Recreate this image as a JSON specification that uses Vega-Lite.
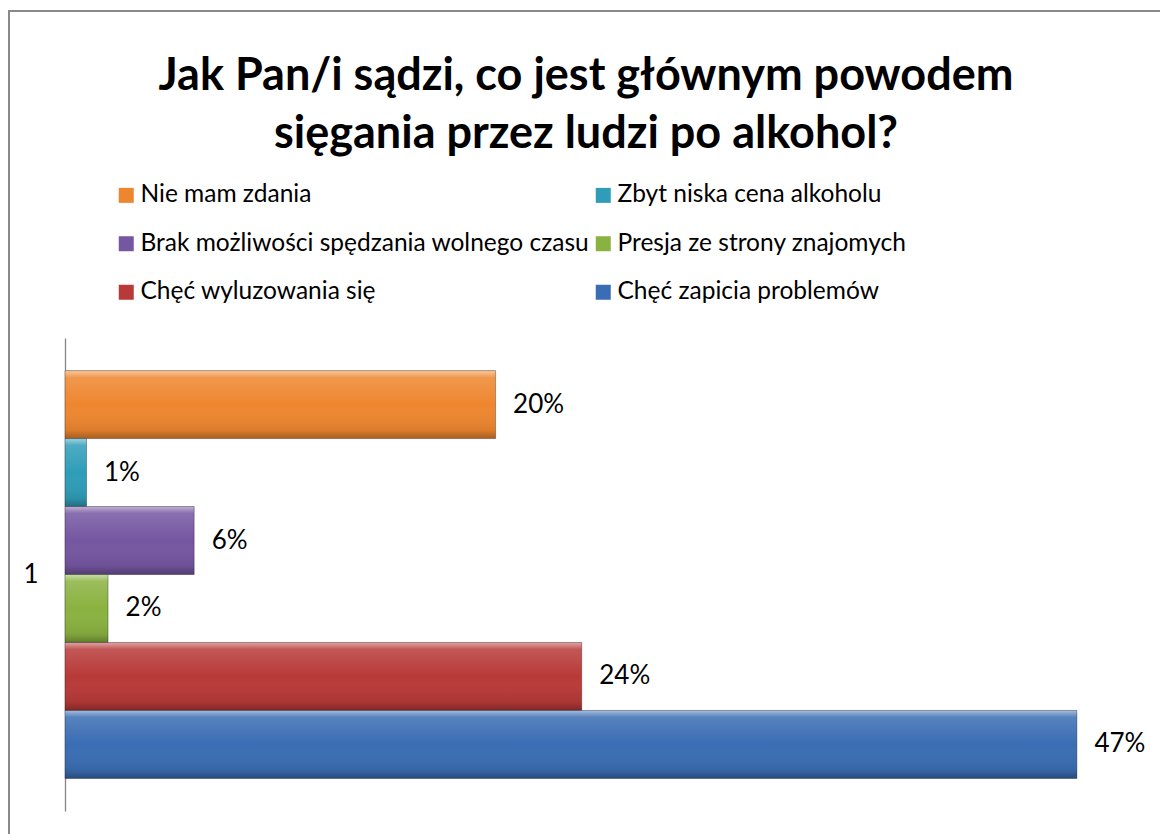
{
  "$schema": "https://vega.github.io/schema/vega-lite/v6.json",
  "width": 1165,
  "height": 830,
  "autosize": {"type": "none"},
  "padding": {"left": 9, "top": 11, "right": -14, "bottom": -7},
  "background": "white",
  "title": {
    "text": ["Jak Pan/i sądzi, co jest głównym powodem", "sięgania przez ludzi po alkohol?"],
    "font": "Lato",
    "fontSize": 45,
    "fontWeight": "bold",
    "color": "black",
    "anchor": "middle",
    "frame": "group",
    "orient": "top",
    "offset": -146,
    "lineHeight": 58,
    "dx": -5.5
  },
  "data": {
    "values": [
      {"cat": "1", "item": "Nie mam zdania", "value": 0.2},
      {"cat": "1", "item": "Zbyt niska cena alkoholu", "value": 0.01},
      {"cat": "1", "item": "Brak możliwości spędzania wolnego czasu", "value": 0.06},
      {"cat": "1", "item": "Presja ze strony znajomych", "value": 0.02},
      {"cat": "1", "item": "Chęć wyluzowania się", "value": 0.24},
      {"cat": "1", "item": "Chęć zapicia problemów", "value": 0.47}
    ]
  },
  "encoding": {
    "y": {
      "field": "cat",
      "type": "nominal",
      "scale": {"range": [327, 800], "paddingOuter": 0.08, "paddingInner": 0},
      "axis": {
        "title": null,
        "orient": "left",
        "offset": -56,
        "ticks": false,
        "tickSize": 0,
        "labelPadding": 27,
        "labelFont": "Lato",
        "labelFontSize": 26,
        "labelColor": "black",
        "domainColor": "#868686",
        "domainWidth": 1.3,
        "grid": false
      }
    },
    "yOffset": {
      "field": "item",
      "type": "nominal",
      "sort": ["Nie mam zdania", "Zbyt niska cena alkoholu", "Brak możliwości spędzania wolnego czasu", "Presja ze strony znajomych", "Chęć wyluzowania się", "Chęć zapicia problemów"],
      "scale": {"paddingInner": 0, "paddingOuter": 0}
    },
    "x": {
      "field": "value",
      "type": "quantitative",
      "scale": {"domain": [0, 0.5], "range": [56, 1132.5], "nice": false, "zero": true},
      "axis": null
    }
  },
  "layer": [
    {
      "mark": {"type": "bar"},
      "encoding": {
        "color": {
          "field": "item",
          "type": "nominal",
          "sort": ["Nie mam zdania", "Zbyt niska cena alkoholu", "Brak możliwości spędzania wolnego czasu", "Presja ze strony znajomych", "Chęć wyluzowania się", "Chęć zapicia problemów"],
          "scale": {
            "domain": ["Nie mam zdania", "Zbyt niska cena alkoholu", "Brak możliwości spędzania wolnego czasu", "Presja ze strony znajomych", "Chęć wyluzowania się", "Chęć zapicia problemów"],
            "range": ["#EE862F", "#2F9DB8", "#7556A1", "#8AB240", "#B83A38", "#3A6DB3"]
          },
          "legend": {
            "orient": "none",
            "legendX": 105,
            "legendY": 172,
            "direction": "horizontal",
            "columns": 2,
            "title": null,
            "labelFont": "Lato",
            "labelFontSize": 24.5,
            "labelColor": "black",
            "labelLimit": 0,
            "symbolType": "square",
            "symbolSize": 225,
            "symbolStrokeWidth": 0,
            "symbolOpacity": 1,
            "labelOffset": 2,
            "rowPadding": 23.5,
            "columnPadding": 1,
            "padding": 0
          }
        }
      }
    },
    {
      "mark": {
        "type": "bar",
        "fill": {
          "x1": 0, "y1": 0, "x2": 0, "y2": 1,
          "gradient": "linear",
          "stops": [
            {"offset": 0, "color": "rgba(255,255,255,0.55)"},
            {"offset": 0.1, "color": "rgba(255,255,255,0.15)"},
            {"offset": 0.5, "color": "rgba(255,255,255,0)"},
            {"offset": 0.88, "color": "rgba(0,0,0,0.08)"},
            {"offset": 1, "color": "rgba(0,0,0,0.3)"}
          ]
        },
        "stroke": "rgba(0,0,0,0.3)",
        "strokeWidth": 1
      }
    },
    {
      "mark": {
        "type": "text",
        "align": "left",
        "baseline": "middle",
        "dx": 17.5,
        "font": "Lato",
        "fontSize": 26,
        "color": "black"
      },
      "encoding": {
        "text": {"field": "value", "type": "quantitative", "format": ".0%"}
      }
    }
  ],
  "config": {
    "view": {"stroke": "#898989", "strokeWidth": 2}
  }
}
